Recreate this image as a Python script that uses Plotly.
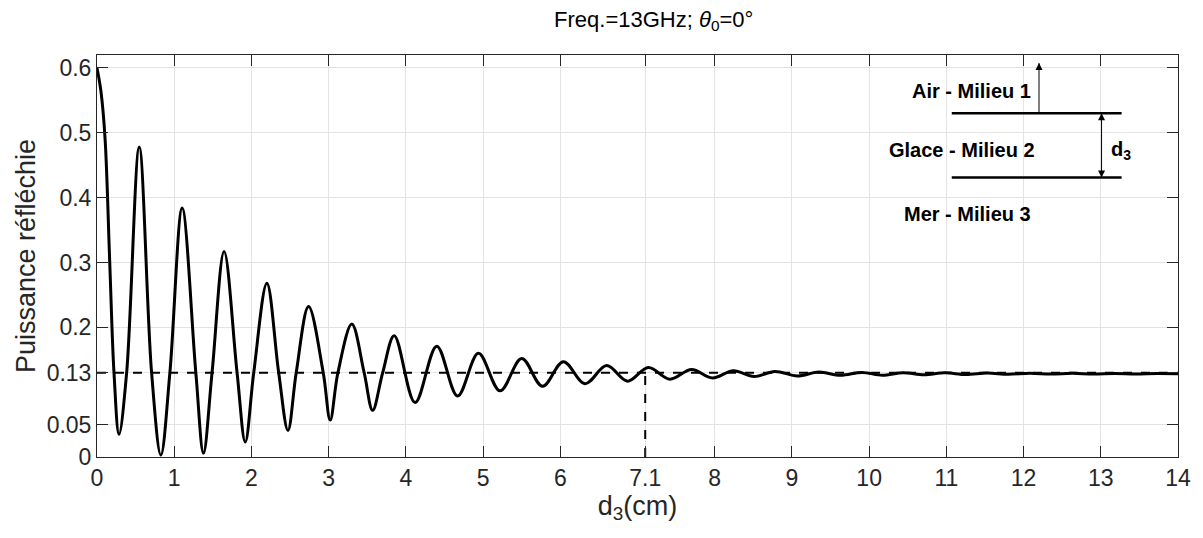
import plotly.graph_objects as go

# curve: peaks, troughs and crossings of the 0.13 level
d3_cm = [0.0, 0.05, 0.105, 0.165, 0.22, 0.285, 0.384, 0.547, 0.707, 0.827, 0.944, 1.103,
         1.28, 1.379, 1.49, 1.646, 1.814, 1.92, 2.03, 2.20, 2.353, 2.473,
         2.58, 2.74, 2.93, 3.02, 3.12, 3.30, 3.46, 3.57, 3.70, 3.85,
         4.12, 4.40, 4.67, 4.94, 5.22, 5.50, 5.77, 6.04, 6.32, 6.60,
         6.87, 7.14, 7.42, 7.70, 7.97, 8.24, 8.51, 8.78, 9.07, 9.35,
         9.63, 9.91, 10.17, 10.44, 10.71, 10.98, 11.25, 11.53, 11.80, 12.08,
         12.35, 12.63, 12.90, 13.18, 13.45, 13.73, 14.0]
power = [0.600, 0.565, 0.49, 0.30, 0.13, 0.035, 0.13, 0.478, 0.13, 0.003, 0.13, 0.384,
         0.13, 0.006, 0.13, 0.317, 0.13, 0.023, 0.13, 0.268, 0.13, 0.041,
         0.13, 0.232, 0.13, 0.057, 0.13, 0.205, 0.13, 0.072, 0.13, 0.187,
         0.084, 0.171, 0.094, 0.160, 0.102, 0.152, 0.109, 0.147, 0.113, 0.141,
         0.117, 0.138, 0.120, 0.135, 0.122, 0.133, 0.124, 0.132, 0.125, 0.131,
         0.126, 0.1305, 0.126, 0.130, 0.1267, 0.1298, 0.1272, 0.1294, 0.1276, 0.1292,
         0.1279, 0.129, 0.1281, 0.1288, 0.1282, 0.1287, 0.1284]

level = 0.13
d3_mark = 7.1

xticks = [0, 1, 2, 3, 4, 5, 6, 7.1, 8, 9, 10, 11, 12, 13, 14]
xlabels = ['0', '1', '2', '3', '4', '5', '6', '7.1', '8', '9', '10', '11', '12', '13', '14']
yticks = [0, 0.05, 0.13, 0.2, 0.3, 0.4, 0.5, 0.6]
ylabels = ['0', '0.05', '0.13', '0.2', '0.3', '0.4', '0.5', '0.6']

# sketch of the layers (data coords)
layer_x = [11.07, 13.27]
layer_top = 0.530
layer_bottom = 0.431
up_arrow_x = 12.20
up_arrow_tip = 0.6075
d_arrow_x = 13.01
media = ['Air - Milieu 1', 'Glace - Milieu 2', 'Mer - Milieu 3']
media_x = [12.125, 12.175, 12.125]
media_y = [0.564, 0.474, 0.375]

FONT = 'Liberation Sans, Arial, sans-serif'
AX = '#262626'

fig = go.Figure()
fig.add_trace(go.Scatter(x=d3_cm, y=power, mode='lines',
                         line=dict(color='black', width=3, shape='spline', smoothing=1),
                         showlegend=False))
fig.add_trace(go.Scatter(x=[0, 14], y=[level, level], mode='lines',
                         line=dict(color='black', width=2, dash='dash'), showlegend=False))
fig.add_trace(go.Scatter(x=[d3_mark, d3_mark], y=[0, level], mode='lines',
                         line=dict(color='black', width=2, dash='dash'), showlegend=False))

# layer boundaries
for yl in [layer_top, layer_bottom]:
    fig.add_trace(go.Scatter(x=layer_x, y=[yl, yl], mode='lines',
                             line=dict(color='black', width=2.5), showlegend=False))

# arrows
fig.add_trace(go.Scatter(x=[up_arrow_x, up_arrow_x], y=[layer_top, up_arrow_tip], mode='lines',
                         line=dict(color='black', width=1), showlegend=False))
fig.add_trace(go.Scatter(x=[d_arrow_x, d_arrow_x], y=[layer_top, layer_bottom], mode='lines',
                         line=dict(color='black', width=1), showlegend=False))
fig.add_trace(go.Scatter(x=[up_arrow_x, d_arrow_x], y=[up_arrow_tip, layer_top], mode='markers',
                         marker=dict(symbol='arrow-up', size=7, color='black'), showlegend=False))
fig.add_trace(go.Scatter(x=[d_arrow_x], y=[layer_bottom], mode='markers',
                         marker=dict(symbol='arrow-down', size=7, color='black'), showlegend=False))

for name, tx, ty in zip(media, media_x, media_y):
    fig.add_annotation(x=tx, y=ty, text=f'<b>{name}</b>', showarrow=False,
                       xanchor='right', yanchor='middle', font=dict(family=FONT, size=20, color='black'))

fig.add_annotation(x=13.10, y=0.472, text='<b>d<sub>3</sub></b>', showarrow=False,
                   xanchor='left', yanchor='middle', font=dict(family=FONT, size=20, color='black'))

fig.update_layout(
    width=1195, height=530,
    margin=dict(l=89, r=21.5, t=47, b=81),
    paper_bgcolor='white', plot_bgcolor='white',
    font=dict(family=FONT, color=AX),
    title=dict(text='Freq.=13GHz; <i>θ</i><sub>0</sub>=0°', x=0.515, xref='paper', xanchor='center',
               y=1 - 11 / 530, yref='container', yanchor='middle',
               font=dict(family=FONT, size=22, color='black')),
    xaxis=dict(
        title=dict(text='d<sub>3</sub>(cm)', font=dict(size=27, color=AX), standoff=2),
        range=[0, 14], tickvals=xticks, ticktext=xlabels,
        tickfont=dict(size=23, color=AX),
        ticks='inside', ticklen=11, tickcolor=AX,
        showline=True, linecolor=AX, linewidth=1, mirror='ticks',
        showgrid=True, gridcolor='#e3e3e3', zeroline=False
    ),
    yaxis=dict(
        title=dict(text='Puissance réfléchie', font=dict(size=27, color=AX), standoff=3),
        range=[0, 0.62], tickvals=yticks, ticktext=ylabels,
        tickfont=dict(size=23, color=AX),
        ticks='inside', ticklen=11, tickcolor=AX,
        showline=True, linecolor=AX, linewidth=1, mirror='ticks',
        showgrid=True, gridcolor='#e3e3e3', zeroline=False
    )
)

fig.write_html("out.html")
